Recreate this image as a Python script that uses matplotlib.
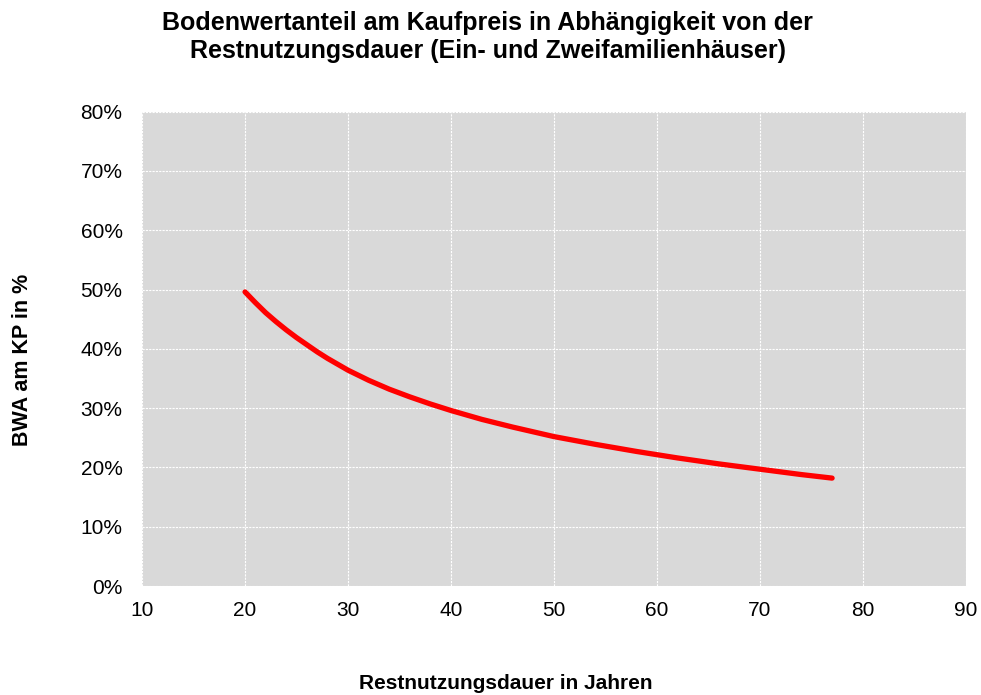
import matplotlib
matplotlib.use("Agg")
import matplotlib.pyplot as plt
from matplotlib.ticker import FuncFormatter

plt.rcParams['font.family'] = ['Liberation Sans', 'DejaVu Sans']

restnutzungsdauer = [20, 21, 22, 23, 24, 25, 26, 27, 28, 29, 30, 32, 34, 36, 38, 40,
                     43, 46, 50, 54, 58, 62, 66, 70, 74, 77]
bwa_anteil = [49.6, 47.8, 46.1, 44.6, 43.2, 41.9, 40.7, 39.5, 38.4, 37.4, 36.4, 34.7,
              33.2, 31.9, 30.7, 29.6, 28.1, 26.8, 25.2, 23.9, 22.7, 21.6, 20.6, 19.7,
              18.8, 18.2]
x_ticks = [10, 20, 30, 40, 50, 60, 70, 80, 90]
y_ticks = [0, 10, 20, 30, 40, 50, 60, 70, 80]

fig = plt.figure(figsize=(9.81, 6.95), dpi=100)
ax = fig.add_axes([0.1448, 0.1568, 0.8399, 0.6825])
ax.set_facecolor('#d9d9d9')

ax.plot(restnutzungsdauer, bwa_anteil, color='#ff0000', lw=3.8,
        solid_capstyle='round', solid_joinstyle='round', zorder=3)

ax.set_xlim(10, 90)
ax.set_ylim(0, 80)
ax.set_xticks(x_ticks)
ax.set_yticks(y_ticks)
ax.yaxis.set_major_formatter(FuncFormatter(lambda v, p: f"{int(v)}%"))
ax.grid(True, color='white', linestyle=(0, (2, 1)), linewidth=0.8, zorder=1)
ax.set_axisbelow(True)
for s in ax.spines.values():
    s.set_visible(False)
ax.tick_params(length=0, labelsize=15)
ax.tick_params(axis='x', pad=11)
ax.tick_params(axis='y', pad=14)

fig.text(0.497, 0.947, "Bodenwertanteil am Kaufpreis in Abhängigkeit von der\nRestnutzungsdauer (Ein- und Zweifamilienhäuser)",
         ha='center', va='center', fontsize=18, fontweight='bold', linespacing=1.2)
fig.text(0.516, 0.016, "Restnutzungsdauer in Jahren", ha='center', va='center',
         fontsize=15, fontweight='bold')
fig.text(0.023, 0.482, "BWA am KP in %", ha='center', va='center', rotation=90,
         fontsize=15.5, fontweight='bold')

fig.savefig("out.png", dpi=100)
